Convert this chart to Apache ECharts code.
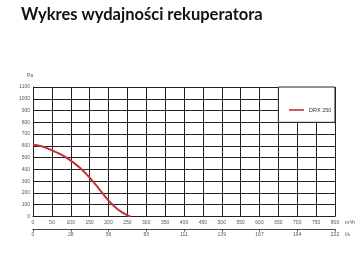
<!DOCTYPE html>
<html><head><meta charset="utf-8">
<script src="https://cdn.jsdelivr.net/npm/echarts@6/dist/echarts.min.js"></script>
<style>html,body{margin:0;padding:0;background:#fff}#c{width:360px;height:253px}</style>
</head><body><div id="c"></div>
<script>
const seriesName = 'DRX 250';
const flow = [0, 25, 50, 75, 100, 125, 150, 175, 200, 225, 250, 258];
const pressure = [612, 595, 562, 525, 475, 412, 330, 235, 135, 60, 10, 0];
const lsLabels = ['0', '28', '56', '83', '111', '139', '167', '194', '222'];
const titleText = 'Wykres wydajności rekuperatora';

const chart = echarts.init(document.getElementById('c'), null, {renderer: 'canvas'});
const lab = {fontSize: 5, color: '#555', fontFamily: 'Liberation Sans'};
chart.setOption({
  animation: false,
  title: {text: titleText, left: 16, top: 1, textStyle: {fontSize: 16.5, fontWeight: 'bold', color: '#111', fontFamily: 'Lato'}},
  grid: {left: 33, right: 25, top: 87, bottom: 36.5},
  legend: {data: [seriesName], left: 284, top: 102, itemWidth: 15, itemHeight: 1.6, itemGap: 4,
    icon: 'rect', textStyle: {fontSize: 5.5, color: '#333', fontFamily: 'Liberation Sans'}},
  xAxis: [{
    type: 'value', min: 0, max: 800, interval: 50, position: 'bottom',
    axisLine: {show: true, lineStyle: {color: '#222', width: 1}},
    axisTick: {show: false},
    axisLabel: Object.assign({margin: 4, formatter: v => String(v)}, lab),
    splitLine: {show: true, lineStyle: {color: '#222', width: 1}},
    name: 'm³/h', nameLocation: 'end', nameGap: 5, nameTextStyle: Object.assign({verticalAlign: 'top', padding: [4, 0, 0, 0]}, lab)
  }, {
    type: 'value', min: 0, max: 800, interval: 100, position: 'bottom', offset: 13,
    axisLine: {show: true, lineStyle: {color: '#444', width: 1}},
    axisTick: {show: true, length: 2, lineStyle: {color: '#444'}},
    axisLabel: Object.assign({margin: 3, formatter: v => lsLabels[Math.round(v / 100)]}, lab),
    splitLine: {show: false},
    name: 'l/s', nameLocation: 'end', nameGap: 5, nameTextStyle: Object.assign({verticalAlign: 'top', padding: [3, 0, 0, 0]}, lab)
  }],
  yAxis: {
    type: 'value', min: 0, max: 1100, interval: 100,
    axisLine: {show: true, lineStyle: {color: '#222', width: 1}},
    axisTick: {show: false},
    axisLabel: Object.assign({margin: 3, formatter: v => String(v)}, lab),
    splitLine: {show: true, lineStyle: {color: '#222', width: 1}},
    name: 'Pa', nameLocation: 'end', nameGap: 9, nameTextStyle: Object.assign({align: 'right', padding: [0, 0, 0, 0]}, lab)
  },
  series: [{
    name: seriesName, type: 'line', xAxisIndex: 0, smooth: 0.4, symbol: 'none',
    data: flow.map((f, i) => [f, pressure[i]]),
    lineStyle: {color: '#c0313a', width: 2}, itemStyle: {color: '#c0313a'},
    markArea: {silent: true, itemStyle: {color: '#fff', borderColor: '#222', borderWidth: 1},
      data: [[{xAxis: 650, yAxis: 800}, {xAxis: 800, yAxis: 1100}]]}
  }]
});
</script></body></html>
